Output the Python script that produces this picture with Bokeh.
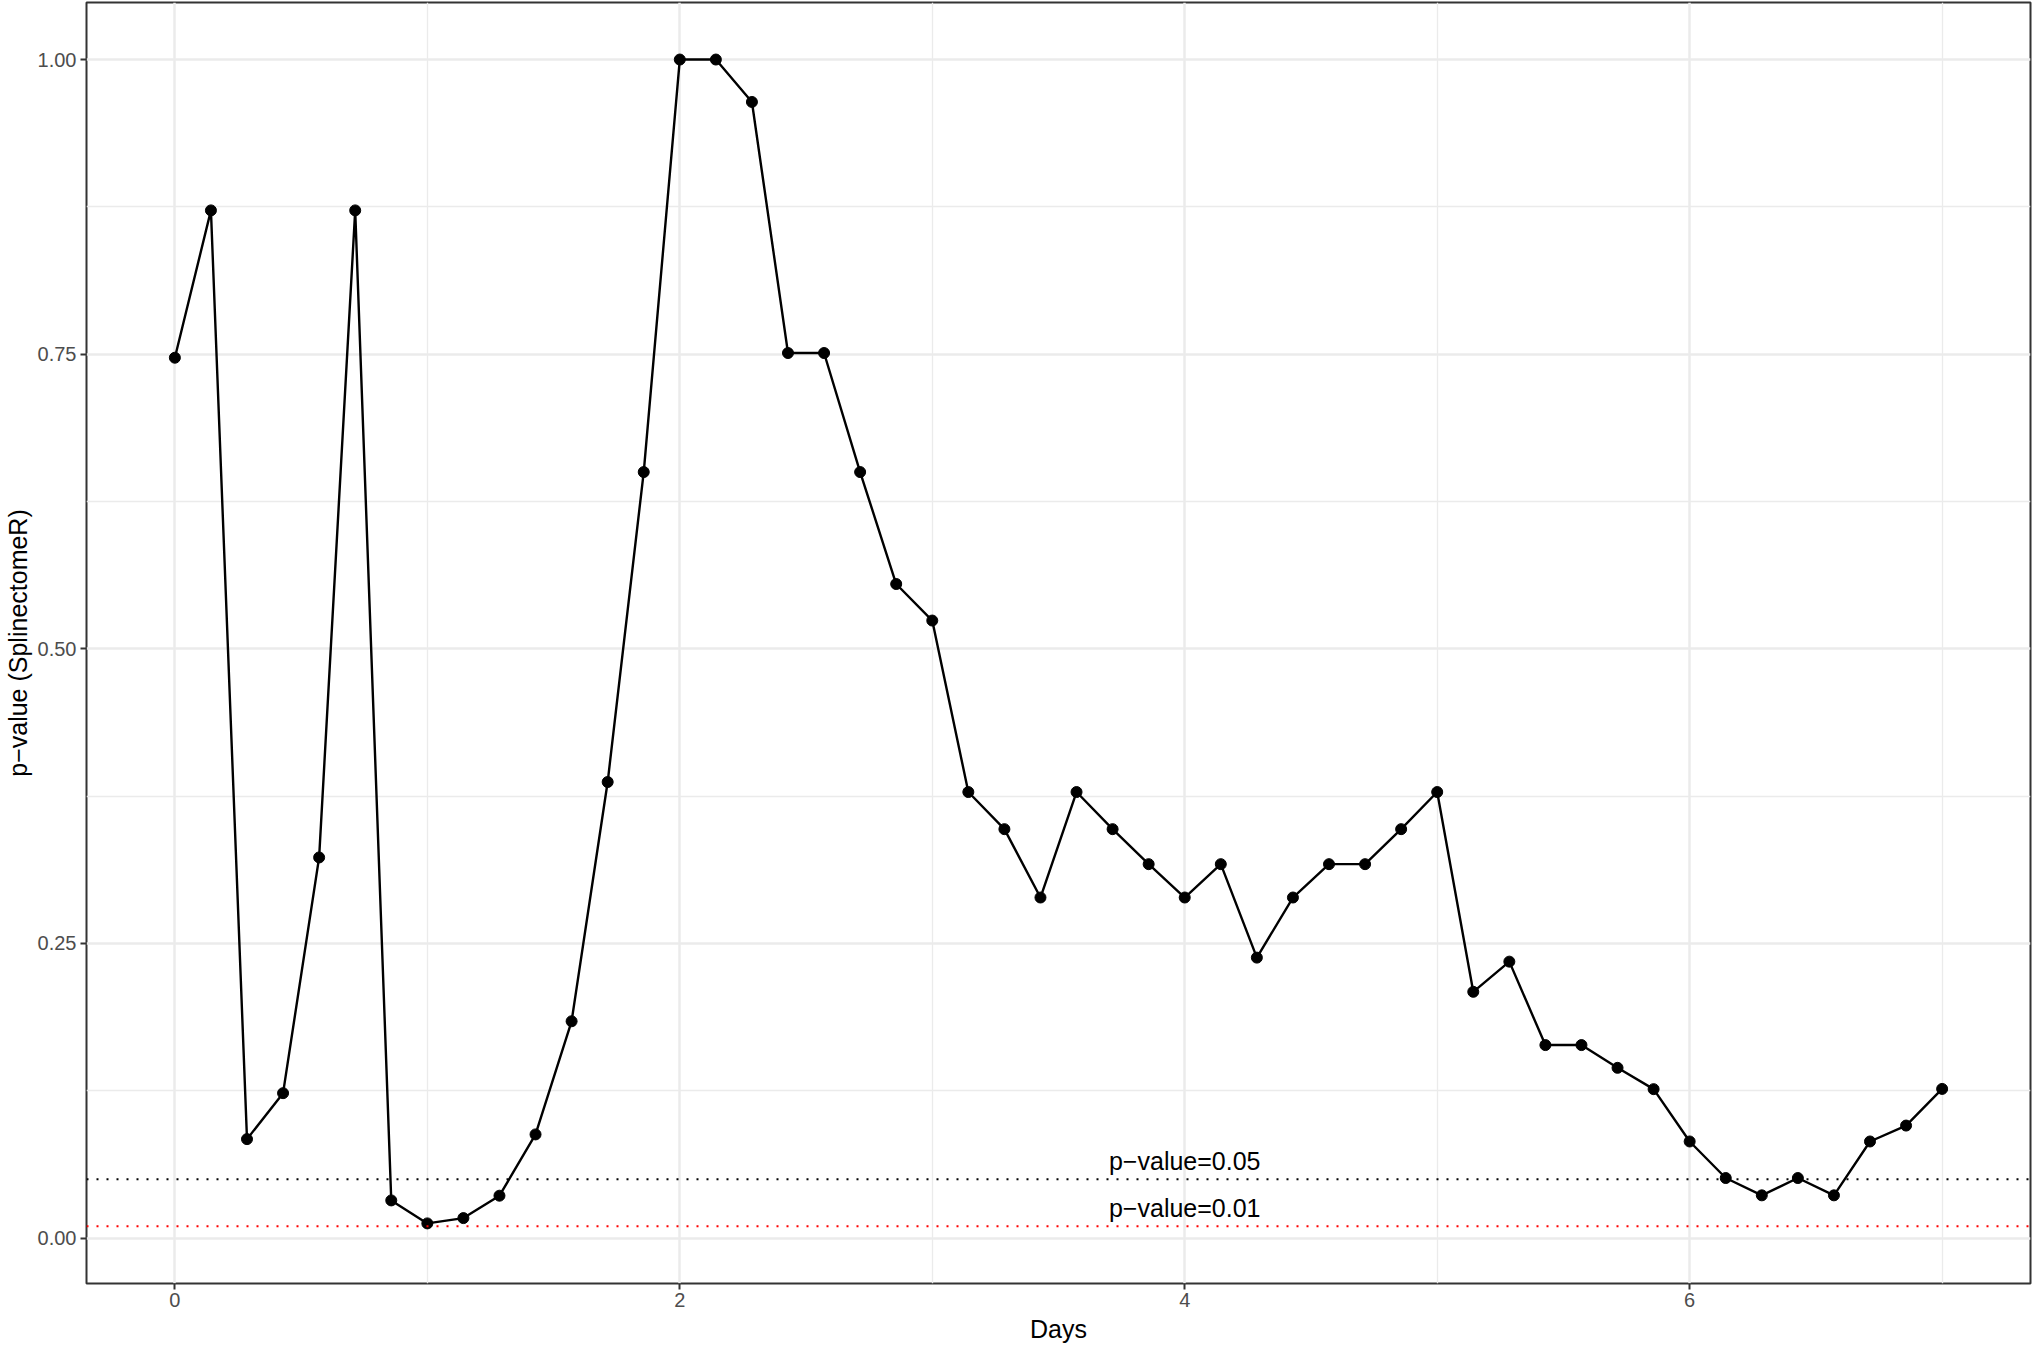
from bokeh.plotting import figure
from bokeh.models import FixedTicker, NumeralTickFormatter, Span, Range1d, ColumnDataSource, Label
from bokeh.embed import file_html
from bokeh.resources import INLINE

# Data (days in steps of 1/7)
day_index = list(range(50))
days = [i / 7 for i in day_index]
pvals = [0.747, 0.872, 0.084, 0.123, 0.323, 0.872, 0.032, 0.0125, 0.017, 0.036,
         0.088, 0.184, 0.387, 0.650, 1.000, 1.000, 0.964, 0.751, 0.751, 0.650,
         0.555, 0.524, 0.3785, 0.347, 0.289, 0.3785, 0.347, 0.3173, 0.289, 0.3173,
         0.238, 0.289, 0.3173, 0.3173, 0.347, 0.3785, 0.209, 0.2346, 0.1638, 0.1638,
         0.1445, 0.1264, 0.082, 0.051, 0.0363, 0.051, 0.0363, 0.082, 0.0955, 0.1266]

thresholds = [0.05, 0.01]
threshold_colors = ["black", "red"]
threshold_labels = ["p\u2212value=0.05", "p\u2212value=0.01"]
label_x = 4

x_major = [0, 2, 4, 6]
x_minor = [1, 3, 5, 7]
y_major = [0, 0.25, 0.5, 0.75, 1.0]
y_minor = [0.125, 0.375, 0.625, 0.875]

FONT = "Liberation Sans"

p = figure(width=2032, height=1347, output_backend="svg", toolbar_location=None,
           x_range=Range1d(-0.35, 7.35), y_range=Range1d(-0.0385, 1.0484),
           min_border_left=86, min_border_right=2, min_border_top=2, min_border_bottom=64)

p.background_fill_color = "white"
p.border_fill_color = "white"
p.outline_line_color = "#333333"
p.outline_line_width = 2

p.xaxis.ticker = FixedTicker(ticks=x_major, minor_ticks=x_minor)
p.yaxis.ticker = FixedTicker(ticks=y_major, minor_ticks=y_minor)
p.yaxis.formatter = NumeralTickFormatter(format="0.00")

for ax in (p.xaxis, p.yaxis):
    ax.axis_line_color = None
    ax.major_tick_line_color = "#333333"
    ax.major_tick_line_width = 2
    ax.major_tick_out = 6
    ax.major_tick_in = 0
    ax.minor_tick_line_color = None
    ax.major_label_text_font = FONT
    ax.major_label_text_font_size = "20px"
    ax.major_label_text_color = "#4D4D4D"
    ax.axis_label_text_font = FONT
    ax.axis_label_text_font_size = "25px"
    ax.axis_label_text_font_style = "normal"
    ax.axis_label_text_color = "black"

p.xaxis.axis_label = "Days"
p.yaxis.axis_label = "p\u2212value (SplinectomeR)"
p.xaxis.major_label_standoff = 3
p.yaxis.major_label_standoff = 4
p.xaxis.axis_label_standoff = 5
p.yaxis.axis_label_standoff = 3

for g in (p.xgrid, p.ygrid):
    g.grid_line_color = "#EBEBEB"
    g.grid_line_width = 2.5
    g.minor_grid_line_color = "#EBEBEB"
    g.minor_grid_line_width = 1.3

for t, c in zip(thresholds, threshold_colors):
    p.add_layout(Span(location=t, dimension="width", line_color=c,
                      line_width=2, line_dash="2 8"))

src = ColumnDataSource(dict(x=days, y=pvals))
p.line("x", "y", source=src, line_color="black", line_width=2.4)
p.scatter("x", "y", source=src, size=11, fill_color="black", line_color="black")

for t, txt in zip(thresholds, threshold_labels):
    p.add_layout(Label(x=label_x, y=t, text=txt, text_font=FONT, text_font_size="25px",
                       text_align="center", text_baseline="alphabetic", y_offset=18,
                       text_color="black"))

open("out.html", "w").write(file_html(p, INLINE))
